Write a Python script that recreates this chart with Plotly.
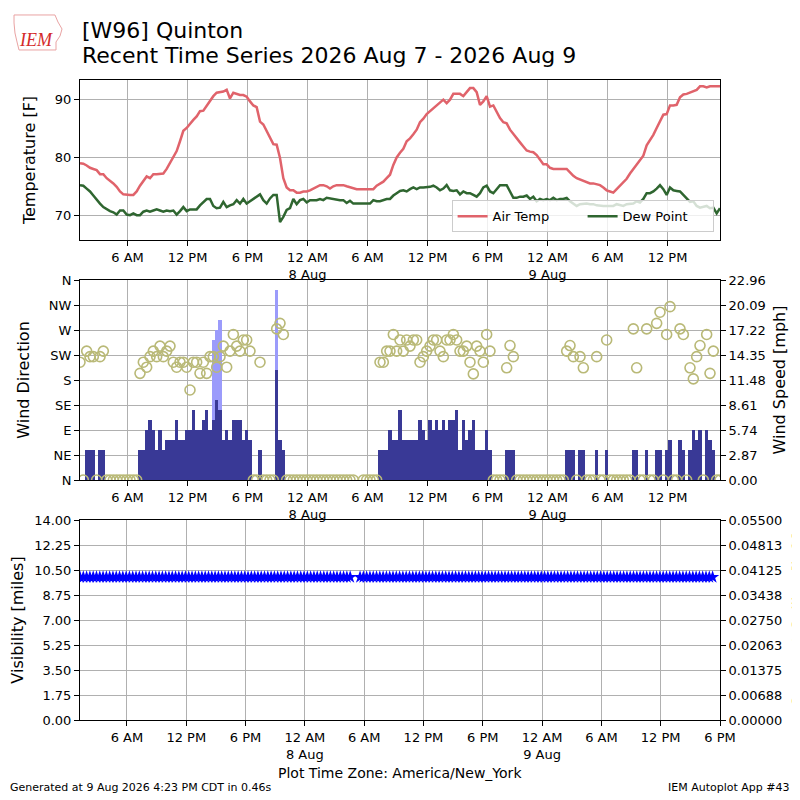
import datetime as dt

import plotly.graph_objects as go

# observations every 20 minutes, Aug 7 01:15 to Aug 9 17:15 (America/New_York)
first_obs = dt.datetime(2026, 8, 7, 1, 15)
obs_step = dt.timedelta(minutes=20)

air_temp = [
    79.0, 78.9, 78.6, 78.2, 78.0, 77.8, 77.1, 77.1, 76.4, 76.0,
    75.5, 74.9, 74.1, 73.6, 73.5, 73.5, 73.5, 74.1, 75.1, 76.0,
    76.7, 76.4, 77.1, 77.1, 77.1, 77.2, 78.0, 79.0, 80.0, 81.1,
    82.8, 84.6, 85.1, 85.9, 86.5, 87.1, 88.0, 88.1, 89.0, 89.7,
    90.6, 91.2, 91.3, 91.4, 91.7, 90.2, 91.2, 91.0, 90.8, 90.8,
    90.5, 89.7, 89.0, 88.7, 86.2, 85.7, 84.6, 83.4, 82.3, 82.2,
    79.9, 76.4, 74.8, 74.3, 74.3, 73.9, 73.9, 74.1, 74.1, 74.3,
    74.6, 75.0, 75.2, 75.2, 75.0, 74.6, 75.0, 75.2, 75.2, 75.2,
    75.0, 74.8, 74.6, 74.5, 74.5, 74.5, 74.4, 74.4, 74.5, 75.1,
    75.5, 75.8, 76.4, 77.0, 78.7, 80.0, 80.8, 81.5, 82.8, 83.3,
    84.0, 84.8, 86.1, 86.7, 87.5, 88.0, 88.6, 89.0, 89.6, 90.0,
    89.4, 90.0, 91.0, 91.0, 91.0, 90.6, 91.3, 92.0, 92.0, 91.3,
    89.1, 89.7, 90.6, 88.8, 89.0, 88.0, 86.8, 86.1, 85.9, 84.8,
    84.0, 83.3, 82.6, 81.9, 81.2, 81.0, 80.9, 80.4, 79.7, 78.8,
    78.8, 78.2, 78.0, 78.0, 78.0, 78.0, 78.0, 77.4, 76.8, 76.4,
    76.2, 76.0, 75.7, 75.5, 75.5, 75.3, 75.2, 74.8, 74.3, 74.1,
    73.9, 74.5, 75.1, 75.7, 76.3, 77.2, 78.0, 78.8, 79.6, 80.3,
    82.1, 83.0, 83.9, 85.1, 86.2, 87.4, 87.5, 89.0, 89.0, 89.1,
    90.4, 90.9, 91.0, 91.2, 91.4, 91.7, 92.3, 92.3, 92.1, 92.3,
    92.3, 92.3, 92.3,
]

dew_point = [
    75.2, 75.1, 74.6, 74.1, 73.4, 72.6, 72.0, 71.4, 71.0, 70.7,
    70.5, 70.1, 70.8, 70.8, 70.1, 70.0, 70.3, 70.0, 70.0, 70.6,
    70.8, 70.6, 70.8, 71.0, 70.8, 70.6, 70.8, 70.7, 70.8, 70.1,
    70.7, 71.4, 70.7, 71.0, 71.0, 71.0, 71.7, 72.3, 72.8, 72.8,
    71.6, 71.2, 71.3, 72.3, 71.4, 71.7, 71.9, 72.6, 72.0, 72.8,
    72.0, 72.4, 72.8, 73.2, 73.6, 72.6, 72.0, 72.9, 73.5, 73.5,
    68.8, 69.7, 70.9, 71.2, 72.8, 71.9, 72.6, 72.8, 72.2, 72.6,
    72.6, 72.6, 72.8, 72.6, 73.0, 72.9, 72.8, 72.6, 72.6, 72.6,
    72.1, 72.5, 72.0, 72.0, 72.0, 72.0, 72.0, 72.0, 72.6, 72.4,
    72.4, 72.6, 72.8, 72.8, 73.4, 73.8, 74.2, 74.3, 74.1, 74.5,
    74.8, 74.5, 74.8, 74.8, 74.8, 74.9, 75.1, 74.8, 74.3, 74.6,
    75.2, 74.3, 74.2, 74.3, 73.6, 74.1, 73.8, 73.8, 73.5, 73.2,
    73.8, 74.8, 75.1, 74.1, 73.8, 74.5, 75.2, 75.2, 75.2, 74.1,
    73.0, 73.0, 73.2, 73.2, 73.4, 72.8, 73.2, 72.4, 72.8, 72.6,
    72.8, 72.6, 73.0, 72.6, 72.8, 72.8, 73.0, 72.4, 72.0, 71.6,
    71.9, 72.0, 72.0, 71.9, 71.9, 71.7, 71.6, 71.6, 71.6, 71.6,
    71.6, 71.9, 71.7, 71.6, 71.9, 72.0, 72.0, 72.4, 72.2, 72.8,
    73.8, 73.8, 74.1, 74.6, 75.2, 74.5, 73.5, 74.8, 74.3, 74.2,
    74.1, 73.5, 72.9, 72.3, 72.4, 71.6, 71.3, 71.4, 71.6, 71.2,
    71.3, 70.3, 71.2,
]

wind_speed = [
    0, 0, 3.45, 3.45, 3.45, 0, 3.45, 3.45, 0, 0,
    0, 0, 0, 0, 0, 0, 0, 0, 3.45, 3.45,
    5.75, 6.9, 5.75, 3.45, 5.75, 3.45, 4.6, 4.6, 4.6, 6.9,
    4.6, 4.6, 5.75, 5.75, 8.05, 5.75, 5.75, 6.9, 8.05, 5.75,
    6.9, 9.2, 8.05, 4.6, 5.75, 4.6, 6.9, 6.9, 6.9, 4.6,
    5.75, 4.6, 0, 0, 3.45, 0, 0, 0, 0, 12.66,
    4.6, 3.45, 0, 0, 0, 0, 0, 0, 0, 0,
    0, 0, 0, 0, 0, 0, 0, 0, 0, 0,
    0, 0, 0, None, None, 0, 0, 0, 0, 0,
    3.45, 3.45, 3.45, 5.75, 4.6, 4.6, 8.05, 4.6, 4.6, 4.6,
    4.6, 4.6, 6.9, 5.75, 4.6, 6.9, 5.75, 6.9, 5.75, 6.9,
    5.75, 6.9, 6.9, 8.05, 3.45, 6.9, 4.6, 5.75, 6.9, 3.45,
    3.45, 3.45, 5.75, 3.45, 0, 0, 0, 0, 3.45, 3.45,
    3.45, 0, 0, 0, 0, 0, 0, 0, 0, 0,
    0, 0, 0, 0, 0, 0, 3.45, 3.45, 3.45, 0,
    3.45, 3.45, 0, 0, 0, 3.45, 0, 0, 3.45, 0,
    0, 0, 0, 0, 0, 0, 3.45, 3.45, 0, 0,
    3.45, 0, 0, 3.45, 3.45, 0, 3.45, 4.6, 0, 0,
    4.6, 3.45, 0, 3.45, 5.75, 4.6, 5.75, 0, 5.75, 4.6,
    3.45, 0, 0,
]

wind_dir = [
    212, 0, 232, 222, 222, 0, 222, 232, 0, 0,
    0, 0, 0, 0, 0, 0, 0, 0, 192, 212,
    203, 222, 232, 222, 241, 222, 232, 241, 212, 203,
    212, 212, 203, 162, 212, 212, 192, 212, 192, 222,
    222, 203, 222, 241, 203, 232, 262, 241, 232, 252,
    252, 232, 0, 0, 212, 0, 0, 0, 0, 272,
    282, 262, 0, 0, 0, 0, 0, 0, 0, 0,
    0, 0, 0, 0, 0, 0, 0, 0, 0, 0,
    0, 0, 0, None, None, 0, 0, 0, 0, 0,
    212, 212, 232, 232, 262, 232, 252, 232, 252, 241,
    252, 252, 212, 222, 232, 241, 252, 252, 232, 222,
    252, 252, 262, 252, 232, 232, 241, 212, 191, 241,
    232, 212, 262, 232, 0, 0, 0, 0, 202, 242,
    222, 0, 0, 0, 0, 0, 0, 0, 0, 0,
    0, 0, 0, 0, 0, 0, 232, 242, 222, 0,
    222, 202, 0, 0, 0, 222, 0, 0, 252, 0,
    0, 0, 0, 0, 0, 0, 272, 202, 0, 0,
    272, 0, 0, 282, 302, 0, 262, 312, 0, 0,
    272, 262, 0, 202, 182, 222, 242, 0, 262, 192,
    232, 0, 0,
]

gust_times = ['2026-08-07 14:35', '2026-08-07 14:55', '2026-08-07 15:15', '2026-08-07 20:55']
gust_speed = [16.11, 17.26, 18.41, 21.86]

visibility = [10.0] * 83 + [None, None] + [10.0] * 108

# no overcast ceiling was reported
ceiling_times = []
ceiling_kft = []

tick_times = [
    '2026-08-07 06:00', '2026-08-07 12:00', '2026-08-07 18:00', '2026-08-08 00:00',
    '2026-08-08 06:00', '2026-08-08 12:00', '2026-08-08 18:00', '2026-08-09 00:00',
    '2026-08-09 06:00', '2026-08-09 12:00', '2026-08-09 18:00',
]
tick_labels = [
    '6 AM', '12 PM', '6 PM', '12 AM<br>8 Aug', '6 AM', '12 PM', '6 PM',
    '12 AM<br>9 Aug', '6 AM', '12 PM', '6 PM',
]
dir_ticks = [0, 45, 90, 135, 180, 225, 270, 315, 360]
dir_labels = ['N', 'NE', 'E', 'SE', 'S', 'SW', 'W', 'NW', 'N']
speed_ticks = [0.0, 2.87, 5.74, 8.61, 11.48, 14.35, 17.22, 20.09, 22.96]
vis_ticks = [0.0, 1.75, 3.5, 5.25, 7.0, 8.75, 10.5, 12.25, 14.0]
ceiling_ticks = [0.0, 0.006875, 0.01375, 0.020625, 0.0275, 0.034375, 0.04125, 0.048125, 0.055]


def page_to_paper(px, py):
    # plot area sits at 80..720 on the page in both directions
    return (px - 80) / 640, (720 - py) / 640


def plot():
    valid = [first_obs + i * obs_step for i in range(len(air_temp))]
    last_obs = valid[-1]
    bar_width = obs_step.total_seconds() * 1000

    fig = go.Figure()

    fig.add_trace(go.Scatter(
        x=valid, y=air_temp, name='Air Temp', mode='lines',
        line=dict(color='#e0636b', width=2.5), xaxis='x', yaxis='y'
    ))
    fig.add_trace(go.Scatter(
        x=valid, y=dew_point, name='Dew Point', mode='lines',
        line=dict(color='#2f6630', width=2.5), xaxis='x', yaxis='y'
    ))

    # wind: bars on y2 (right side), direction on y3 overlay so circles sit on top
    fig.add_trace(go.Bar(
        x=gust_times, y=gust_speed, width=bar_width, marker=dict(color='#9b9bfb', line_width=0),
        showlegend=False, xaxis='x2', yaxis='y2'
    ))
    fig.add_trace(go.Bar(
        x=valid, y=wind_speed, width=bar_width, marker=dict(color='#393996', line_width=0),
        showlegend=False, xaxis='x2', yaxis='y2'
    ))
    fig.add_trace(go.Scatter(
        x=valid, y=wind_dir, mode='markers', showlegend=False,
        marker=dict(symbol='circle-open', size=10, color='#b9b977', line=dict(width=1.6)),
        xaxis='x2', yaxis='y3'
    ))

    fig.add_trace(go.Scatter(
        x=valid, y=visibility, mode='markers', showlegend=False,
        marker=dict(symbol='star', size=10, color='#0000ff', line_width=0),
        xaxis='x3', yaxis='y4'
    ))
    fig.add_trace(go.Scatter(
        x=ceiling_times, y=ceiling_kft, mode='markers', showlegend=False,
        marker=dict(color='green'), xaxis='x3', yaxis='y5'
    ))

    frame = dict(
        showline=True, linecolor='black', linewidth=1, mirror=True,
        ticks='outside', ticklen=5, tickcolor='black', automargin=False,
        showgrid=True, gridcolor='#b0b0b0', gridwidth=1, zeroline=False,
    )
    xticks = dict(tickvals=tick_times, ticktext=tick_labels, tickangle=0)

    # the page body adds an 8px offset, so the margins are shifted to land the plots at 80..720
    fig.update_layout(
        width=800, height=800,
        margin=dict(l=72, r=88, t=72, b=88, autoexpand=False),
        plot_bgcolor='white', paper_bgcolor='white',
        font=dict(family='DejaVu Sans', size=13, color='black'),
        barmode='overlay', bargap=0,
        xaxis=dict(domain=[0, 1], anchor='y', range=[first_obs, last_obs], **xticks, **frame),
        xaxis2=dict(domain=[0, 1], anchor='y2', range=[first_obs, last_obs], **xticks, **frame),
        xaxis3=dict(domain=[0, 1], anchor='y4', range=[first_obs, '2026-08-09 18:00'], **xticks, **frame),
        yaxis=dict(domain=[0.75, 1], anchor='x', range=[65.7, 93.4], tickvals=[70, 80, 90],
                   title=dict(text='Temperature [F]'), **frame),
        yaxis2=dict(domain=[0.375, 0.6875], anchor='x2', side='right', range=[0, 22.96],
                    tickvals=speed_ticks, ticktext=['%.2f' % v for v in speed_ticks],
                    title=dict(text='Wind Speed [mph]', standoff=8), **frame),
        yaxis3=dict(overlaying='y2', anchor='x2', side='left', range=[0, 360],
                    tickvals=dir_ticks, ticktext=dir_labels,
                    title=dict(text='Wind Direction'), **{**frame, 'showgrid': False}),
        yaxis4=dict(domain=[0, 0.3125], anchor='x3', range=[0, 14],
                    tickvals=vis_ticks, ticktext=['%.2f' % v for v in vis_ticks],
                    title=dict(text='Visibility [miles]'), **frame),
        yaxis5=dict(overlaying='y4', anchor='x3', side='right', range=[0, 0.055],
                    tickvals=ceiling_ticks, ticktext=['%.5f' % v for v in ceiling_ticks],
                    title=dict(text='Overcast Ceiling [k ft]', font=dict(color='green')),
                    **{**frame, 'showgrid': False}),
        legend=dict(
            orientation='h', x=0.99, xanchor='right', y=0.762, yanchor='bottom',
            bgcolor='rgba(255,255,255,0.8)', bordercolor='#cccccc', borderwidth=1,
            font=dict(size=13), entrywidth=85, entrywidthmode='pixels',
        ),
    )

    # rough outline of the IEM logo (state shape) behind the "IEM" text
    outline = [(14, 15), (55, 15), (58, 22), (62, 29), (60, 36), (56, 42), (56, 50),
               (19, 50), (17, 42), (15, 33), (14, 23)]
    pts = [page_to_paper(px, py) for px, py in outline]
    path = 'M ' + ' L '.join('%.4f,%.4f' % p for p in pts) + ' Z'
    fig.add_shape(type='path', path=path, xref='paper', yref='paper',
                  line=dict(color='#e9a3a3', width=1), fillcolor='rgba(0,0,0,0)')

    fig.add_annotation(text='[W96] Quinton', xref='paper', yref='paper', x=0, y=1.078,
                       xanchor='left', yanchor='middle', showarrow=False, font=dict(size=22))
    fig.add_annotation(text='Recent Time Series 2026 Aug 7 - 2026 Aug 9', xref='paper', yref='paper',
                       x=0, y=1.0375, xanchor='left', yanchor='middle', showarrow=False,
                       font=dict(size=22))
    fig.add_annotation(text='IEM', xref='paper', yref='paper', x=-0.0985, y=1.062,
                       xanchor='left', yanchor='middle', showarrow=False,
                       font=dict(family='Liberation Serif', size=18, color='#d42a2a', style='italic'))
    fig.add_annotation(text='Plot Time Zone: America/New_York', xref='paper', yref='paper',
                       x=0.5, y=-0.083, xanchor='center', yanchor='middle', showarrow=False,
                       font=dict(size=14))
    fig.add_annotation(text='Generated at 9 Aug 2026 4:23 PM CDT in 0.46s', xref='paper', yref='paper',
                       x=-0.1125, y=-0.106, xanchor='left', yanchor='middle', showarrow=False,
                       font=dict(size=11))
    fig.add_annotation(text='IEM Autoplot App #43', xref='paper', yref='paper',
                       x=1.1125, y=-0.106, xanchor='right', yanchor='middle', showarrow=False,
                       font=dict(size=11))

    fig.write_html('out.html')


if __name__ == "__main__":
    plot()
